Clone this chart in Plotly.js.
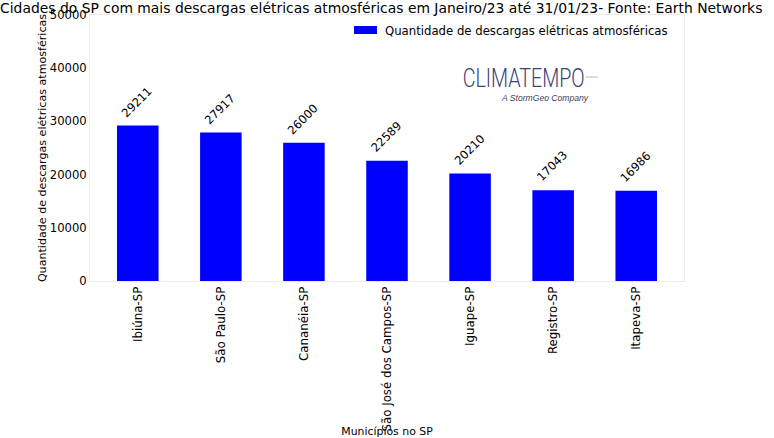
<!DOCTYPE html>
<html>
<head>
<meta charset="utf-8">
<script src="https://cdn.plot.ly/plotly-3.0.1.min.js"></script>
<style>html,body{margin:0;padding:0;background:#fff;}#chart{width:774px;height:438px;}</style>
</head>
<body>
<div id="chart"></div>
<script>
const municipios = ["Ibiúna-SP", "São Paulo-SP", "Cananéia-SP", "São José dos Campos-SP", "Iguape-SP", "Registro-SP", "Itapeva-SP"];
const descargas = [29211, 27917, 26000, 22589, 20210, 17043, 16986];
const serieNome = "Quantidade de descargas elétricas atmosféricas";
const tituloTexto = "Cidades do SP com mais descargas elétricas atmosféricas em Janeiro/23 até 31/01/23- Fonte: Earth Networks";
const yTickVals = [0, 10000, 20000, 30000, 40000, 50000];

const FONT = "DejaVu Sans";

const trace = {
  type: "bar",
  x: municipios,
  y: descargas,
  width: 0.5,
  marker: {color: "#0000ff", line: {width: 0}},
  name: serieNome,
  showlegend: false,
  hoverinfo: "x+y"
};

const valueAnnotations = municipios.map((m, i) => ({
  x: m, y: descargas[i], xref: "x", yref: "y",
  text: String(descargas[i]),
  textangle: -45,
  showarrow: false,
  xanchor: "center", yanchor: "bottom",
  yshift: 3, xshift: -1,
  font: {family: FONT, size: 11.6, color: "#000"}
}));

const layout = {
  width: 774, height: 438,
  margin: {l: 90, r: 90, t: 15, b: 157},
  paper_bgcolor: "#fff", plot_bgcolor: "#fff",
  font: {family: FONT, color: "#000"},
  title: {
    text: tituloTexto,
    font: {family: FONT, size: 13.9, color: "#000"},
    xref: "container", x: 0.4925, xanchor: "center",
    yref: "container", y: 0.982, yanchor: "middle"
  },
  xaxis: {
    type: "category",
    range: [-0.575, 6.575],
    tickangle: -90,
    ticks: "",
    tickfont: {family: FONT, size: 11.8, color: "#000"},
    showgrid: false, zeroline: false,
    showline: true, mirror: true, linecolor: "#ebebeb", linewidth: 1,
    title: {text: "Municípios no SP", font: {family: FONT, size: 10.9, color: "#000"}, standoff: 2}
  },
  yaxis: {
    range: [0, 50000],
    tickvals: yTickVals,
    ticktext: yTickVals.map(String),
    ticks: "",
    tickfont: {family: FONT, size: 11.6, color: "#000"},
    showgrid: false, zeroline: false,
    showline: true, mirror: true, linecolor: "#ebebeb", linewidth: 1,
    title: {text: serieNome, font: {family: FONT, size: 11.1, color: "#000"}, standoff: 0}
  },
  shapes: [
    {type: "rect", xref: "paper", yref: "paper", x0: 0.4444, x1: 0.4832, y0: 0.9286, y1: 0.9586,
     fillcolor: "#0000ff", line: {width: 0}},
    {type: "line", xref: "paper", yref: "paper", x0: 0.834, x1: 0.855, y0: 0.767, y1: 0.767,
     line: {color: "#b8bccb", width: 1}}
  ],
  annotations: valueAnnotations.concat([
    {xref: "paper", yref: "paper", x: 0.4933, y: 0.9417, xanchor: "left", yanchor: "middle",
     text: serieNome, showarrow: false, font: {family: FONT, size: 11.7, color: "#000"}},
    {xref: "paper", yref: "paper", x: 0.7306, y: 0.765, xanchor: "center", yanchor: "middle",
     text: "CLIMATEMPO", showarrow: false,
     font: {family: "Roboto, sans-serif", size: 26, color: "#3b4272", weight: 300}},
    {xref: "paper", yref: "paper", x: 0.8434, y: 0.688, xanchor: "right", yanchor: "middle",
     text: "<i>A StormGeo Company</i>", showarrow: false,
     font: {family: "Liberation Sans, Roboto, sans-serif", size: 8.6, color: "#3a3f55"}}
  ])
};

Plotly.newPlot("chart", [trace], layout, {displayModeBar: false, staticPlot: true}).then(function (gd) {
  gd.querySelectorAll("text.annotation-text").forEach(function (t) {
    if (t.textContent === "CLIMATEMPO") {
      t.setAttribute("textLength", "122");
      t.setAttribute("lengthAdjust", "spacingAndGlyphs");
    }
  });
});
</script>
</body>
</html>
